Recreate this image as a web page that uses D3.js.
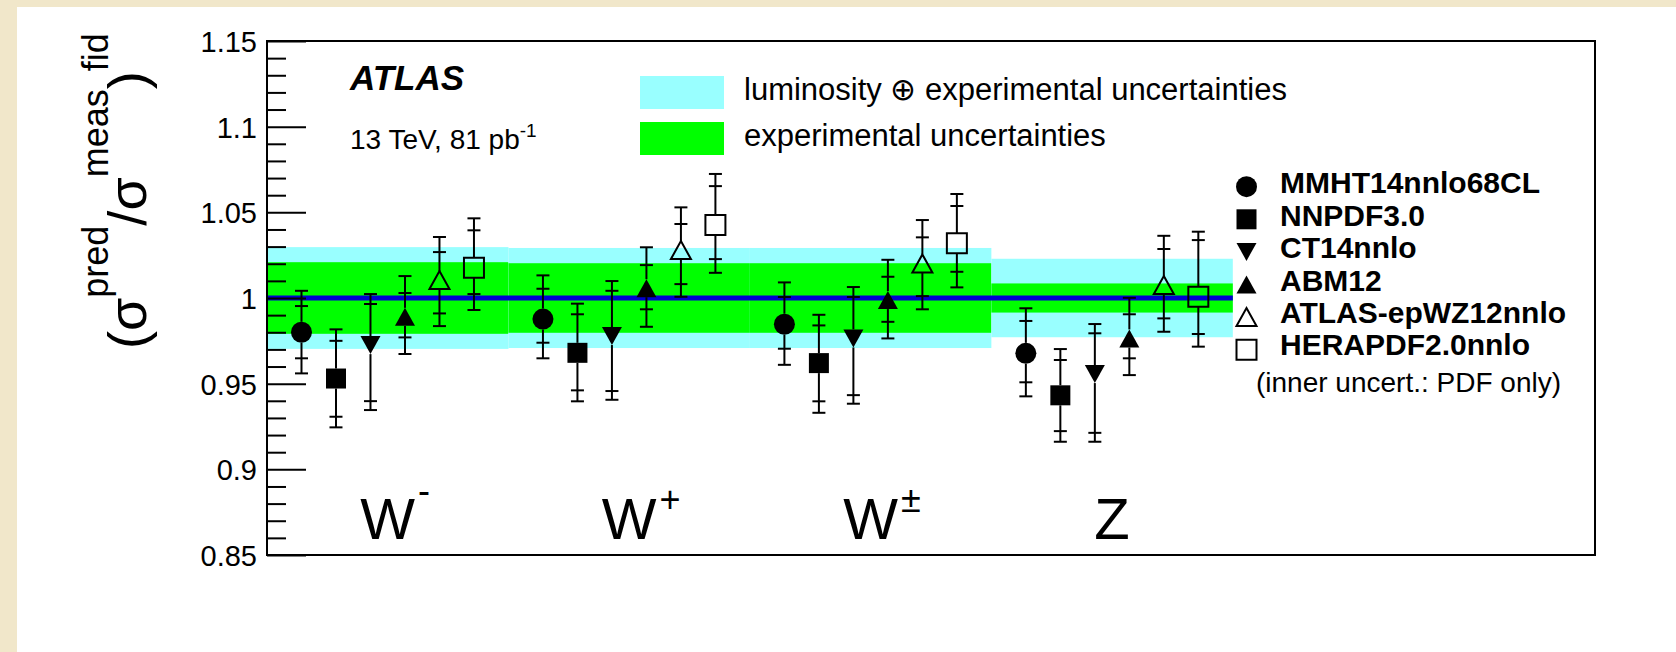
<!DOCTYPE html>
<html>
<head>
<meta charset="utf-8">
<script src="https://cdn.jsdelivr.net/npm/d3@7"></script>
<style>
  body { margin: 0; background: #f1e7ca; }
  svg { display: block; }
  text { font-family: "Liberation Sans", Arial, Helvetica, sans-serif; fill: #000; }
</style>
</head>
<body>
<svg id="chart" width="1676" height="652"></svg>
<script>
// channels on the x axis
const channels = ["W", "W", "W", "Z"];
const channelSup = ["-", "+", "\u00b1", ""];

// PDF sets, one marker each
const pdfSets = ["MMHT14nnlo68CL", "NNPDF3.0", "CT14nnlo", "ABM12", "ATLAS-epWZ12nnlo", "HERAPDF2.0nnlo"];

// sigma_pred / sigma_meas, rows = channel, columns = PDF set
const central = [
    [0.980, 0.953, 0.9725, 0.989, 1.0105, 1.0177],
    [0.9877, 0.968, 0.9778, 1.0057, 1.028, 1.0426],
    [0.9847, 0.962, 0.9764, 0.9988, 1.0202, 1.0319],
    [0.9677, 0.9432, 0.9556, 0.9764, 1.0076, 1.0007]
];
// inner error bar (PDF only)
const pdfLow = [
    [0.9648, 0.9307, 0.9398, 0.977, 0.991, 1.0023],
    [0.9739, 0.9461, 0.9457, 0.9934, 1.0081, 1.0227],
    [0.9704, 0.9397, 0.9433, 0.9861, 1.0011, 1.0153],
    [0.9508, 0.9223, 0.9213, 0.9648, 0.9881, 0.979]
];
const pdfHigh = [
    [0.9953, 0.975, 0.9965, 1.0029, 1.0268, 1.0395],
    [1.0054, 0.9905, 1.0042, 1.0192, 1.0432, 1.0653],
    [1.0006, 0.984, 1.0006, 1.0124, 1.0354, 1.0537],
    [0.9866, 0.9638, 0.9794, 0.9905, 1.0286, 1.0338]
];
// outer error bar (total theory)
const totLow = [
    [0.956, 0.9245, 0.9346, 0.9673, 0.9836, 0.993],
    [0.9648, 0.9397, 0.9406, 0.9832, 1.0007, 1.0147],
    [0.961, 0.933, 0.9383, 0.9764, 0.9934, 1.0062],
    [0.9426, 0.9161, 0.9161, 0.955, 0.9803, 0.9716]
];
const totHigh = [
    [1.0042, 0.9817, 1.0023, 1.0128, 1.0356, 1.0465],
    [1.0132, 0.9967, 1.0099, 1.0296, 1.0529, 1.0724],
    [1.0091, 0.9902, 1.0064, 1.0223, 1.0455, 1.0607],
    [0.994, 0.9702, 0.9848, 1.0001, 1.0363, 1.0387]
];

// measurement bands (half widths around 1)
const lumiUnc = [0.0297, 0.0292, 0.0292, 0.0229];
const expUnc = [0.0209, 0.0203, 0.0203, 0.0085];

const yTicks = [0.85, 0.9, 0.95, 1, 1.05, 1.1, 1.15];
const yTickLabels = ["0.85", "0.9", "0.95", "1", "1.05", "1.1", "1.15"];

const bandLabels = ["luminosity \u2295 experimental uncertainties", "experimental uncertainties"];

// marker style for each PDF set
const markerStyle = [
    {shape: "circle", open: false},
    {shape: "square", open: false},
    {shape: "triDown", open: false},
    {shape: "triUp", open: false},
    {shape: "triUp", open: true},
    {shape: "square", open: true}
];

const svg = d3.select("#chart");

// white page on the beige background
svg.append("rect").attr("x", 17).attr("y", 7).attr("width", 1676 - 17).attr("height", 652 - 7).attr("fill", "#fff");

const x = d3.scaleLinear().domain([0, 5.5]).range([267, 1595]);
const y = d3.scaleLinear().domain([0.85, 1.15]).range([555, 41]);

// bands
channels.forEach((c, i) => {
    svg.append("rect")
        .attr("x", x(i)).attr("width", x(i + 1) - x(i))
        .attr("y", y(1 + lumiUnc[i])).attr("height", y(1 - lumiUnc[i]) - y(1 + lumiUnc[i]))
        .attr("fill", "#99ffff");
    svg.append("rect")
        .attr("x", x(i)).attr("width", x(i + 1) - x(i))
        .attr("y", y(1 + expUnc[i])).attr("height", y(1 - expUnc[i]) - y(1 + expUnc[i]))
        .attr("fill", "#00ff00");
});

svg.append("line")
    .attr("x1", x(0)).attr("x2", x(channels.length))
    .attr("y1", y(1)).attr("y2", y(1))
    .attr("stroke", "#0000d0").attr("stroke-width", 5);

// y axis, ticks pointing into the frame
const yAxis = d3.axisLeft(y).tickValues(yTicks)
    .tickFormat((d, i) => yTickLabels[i])
    .tickSizeInner(-39).tickSizeOuter(0).tickPadding(10);
const gy = svg.append("g").attr("transform", `translate(${x(0)},0)`).call(yAxis);
gy.select(".domain").remove();
gy.selectAll(".tick line").attr("stroke", "#000").attr("stroke-width", 2);
gy.selectAll(".tick text").style("font-size", "29px").style("font-family", "Liberation Sans, Arial, sans-serif").attr("dy", "0.36em");

const minor = d3.range(86, 115).map(v => v / 100).filter(v => Math.round(v * 100) % 5 !== 0);
const gMinor = svg.append("g").attr("transform", `translate(${x(0)},0)`)
    .call(d3.axisLeft(y).tickValues(minor).tickFormat("").tickSizeInner(-19).tickSizeOuter(0));
gMinor.select(".domain").remove();
gMinor.selectAll(".tick line").attr("stroke", "#000").attr("stroke-width", 2);

// markers
function markerPath(shape) {
    const p = d3.path();
    if (shape === "circle") {
        p.arc(0, 0, 10.5, 0, 2 * Math.PI);
    } else if (shape === "square") {
        p.rect(-10, -10, 20, 20);
    } else if (shape === "triUp") {
        p.moveTo(0, -9); p.lineTo(10, 9); p.lineTo(-10, 9); p.closePath();
    } else {
        p.moveTo(-10, -9); p.lineTo(10, -9); p.lineTo(0, 9); p.closePath();
    }
    return p.toString();
}
const halfHeight = {circle: 10.5, square: 10, triUp: 9, triDown: 9};

const points = [];
channels.forEach((c, i) => {
    pdfSets.forEach((s, k) => {
        points.push({
            xv: i + (k + 1) / 7, k: k,
            c: central[i][k], pl: pdfLow[i][k], ph: pdfHigh[i][k], tl: totLow[i][k], th: totHigh[i][k]
        });
    });
});

const gPts = svg.append("g");
points.forEach(d => {
    const st = markerStyle[d.k];
    const px = x(d.xv), py = y(d.c), h = halfHeight[st.shape];
    const g = gPts.append("g");
    g.append("line").attr("x1", px).attr("x2", px).attr("y1", y(d.tl)).attr("y2", py + h)
        .attr("stroke", "#000").attr("stroke-width", 2);
    g.append("line").attr("x1", px).attr("x2", px).attr("y1", py - h).attr("y2", y(d.th))
        .attr("stroke", "#000").attr("stroke-width", 2);
    [d.pl, d.ph, d.tl, d.th].forEach(v => {
        g.append("line").attr("x1", px - 6.5).attr("x2", px + 6.5).attr("y1", y(v)).attr("y2", y(v))
            .attr("stroke", "#000").attr("stroke-width", 2);
    });
    g.append("path").attr("d", markerPath(st.shape)).attr("transform", `translate(${px},${py})`)
        .attr("fill", st.open ? "none" : "#000")
        .attr("stroke", "#000").attr("stroke-width", st.open ? 2 : 0);
});

// frame
svg.append("rect").attr("x", x(0)).attr("y", y(1.15))
    .attr("width", x(5.5) - x(0)).attr("height", y(0.85) - y(1.15))
    .attr("fill", "none").attr("stroke", "#000").attr("stroke-width", 2);

// channel labels
channels.forEach((c, i) => {
    const cx = x(i + 0.5);
    const t = svg.append("text").attr("x", cx).attr("y", 539)
        .attr("text-anchor", "middle").style("font-size", "58px").text(c);
    if (channelSup[i]) {
        const w = t.node().getComputedTextLength();
        svg.append("text").attr("x", cx + w / 2 + 3).attr("y", channelSup[i] === "-" ? 503 : 512)
            .style("font-size", "36px").text(channelSup[i]);
    }
});

// y axis title
const yt = svg.append("text").attr("transform", "translate(146,349) rotate(-90)")
    .style("font-size", "54px");
yt.append("tspan").text("(\u03c3");
yt.append("tspan").attr("dy", -38).style("font-size", "36px").text("pred");
yt.append("tspan").attr("dy", 38).text("/\u03c3");
yt.append("tspan").attr("dy", -38).style("font-size", "36px").text("meas");
yt.append("tspan").attr("dy", 38).text(")");
yt.append("tspan").attr("dy", -38).style("font-size", "36px").text("fid");

// ATLAS label
svg.append("text").attr("x", 350).attr("y", 90)
    .style("font-size", "35px").style("font-weight", "bold").style("font-style", "italic").text("ATLAS");
const lum = svg.append("text").attr("x", 350).attr("y", 149).style("font-size", "28px");
lum.append("tspan").text("13 TeV, 81 pb");
lum.append("tspan").attr("dy", -12).style("font-size", "19px").text("-1");

// band legend
const bandColors = ["#99ffff", "#00ff00"];
bandLabels.forEach((l, i) => {
    svg.append("rect").attr("x", 640).attr("y", 76 + i * 46).attr("width", 84).attr("height", 33)
        .attr("fill", bandColors[i]);
    svg.append("text").attr("x", 744).attr("y", 100 + i * 46).style("font-size", "31px").text(l);
});

// marker legend
pdfSets.forEach((s, k) => {
    const st = markerStyle[k];
    const ly = 186.7 + k * 32.6;
    svg.append("path").attr("d", markerPath(st.shape)).attr("transform", `translate(1246.5,${ly})`)
        .attr("fill", st.open ? "none" : "#000")
        .attr("stroke", "#000").attr("stroke-width", st.open ? 2 : 0);
    svg.append("text").attr("x", 1280).attr("y", 193.3 + k * 32.4)
        .style("font-size", "30px").style("font-weight", "bold").text(s);
});
svg.append("text").attr("x", 1256).attr("y", 392).style("font-size", "28px").text("(inner uncert.: PDF only)");
</script>
</body>
</html>
